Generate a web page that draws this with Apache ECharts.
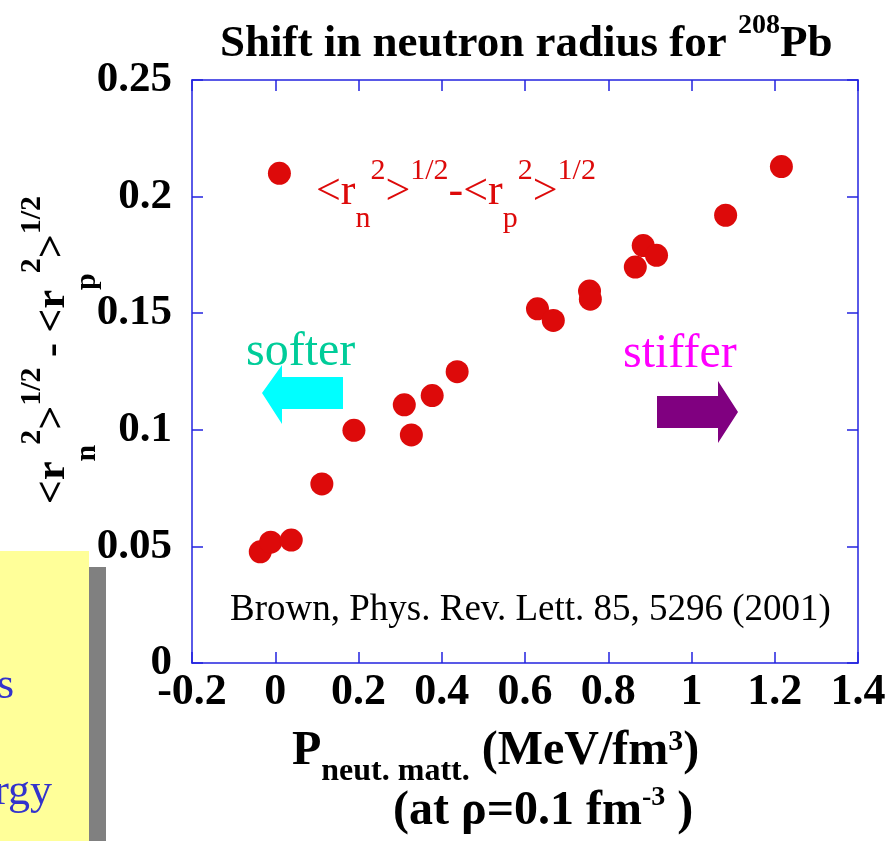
<!DOCTYPE html>
<html>
<head>
<meta charset="utf-8">
<script src="https://cdn.jsdelivr.net/npm/echarts@6/dist/echarts.min.js"></script>
<style>html,body{margin:0;padding:0;background:#fff}#c{width:891px;height:841px}</style>
</head>
<body>
<div id="c"></div>
<script>
// ---- data ----
const pressure = [0.01, -0.036, -0.011, 0.0385, 0.112, 0.189, 0.31, 0.327, 0.377, 0.437, 0.63, 0.668, 0.755, 0.757, 0.865, 0.884, 0.916, 1.082, 1.216];
const skin     = [0.210, 0.0477, 0.0518, 0.0527, 0.0768, 0.0998, 0.1107, 0.0978, 0.1147, 0.1249, 0.1519, 0.1469, 0.1595, 0.156, 0.1698, 0.179, 0.1748, 0.192, 0.2129];
const xTickLabels = ['-0.2', '0', '0.2', '0.4', '0.6', '0.8', '1', '1.2', '1.4'];
const yTickLabels = ['0', '0.05', '0.1', '0.15', '0.2', '0.25'];

const SERIF = "'Liberation Serif','Times New Roman',Times,serif";
const AXC = '#2323e0';
const RED = '#dd0a0a';

function tok(size, pad, weight, color) {
  return { fontSize: size, lineHeight: size, fontFamily: SERIF, fontWeight: weight || 'normal',
           fill: color, color: color, verticalAlign: 'top', padding: [pad, 0, 0, 0] };
}

const chart = echarts.init(document.getElementById('c'), null, { renderer: 'canvas' });

const axisCommon = {
  type: 'value',
  axisLine: { show: true, onZero: false, lineStyle: { color: AXC, width: 1.5 } },
  axisTick: { show: true, inside: true, length: 11, lineStyle: { color: AXC, width: 1.5 } },
  splitLine: { show: false }
};

chart.setOption({
  animation: false,
  backgroundColor: '#ffffff',
  grid: { left: 192, right: 33, top: 80, bottom: 178, show: false },
  xAxis: [
    Object.assign({}, axisCommon, {
      min: -0.2, max: 1.4, interval: 0.2, position: 'bottom',
      axisLabel: {
        show: true, margin: 8, fontSize: 44, fontWeight: 'bold', fontFamily: SERIF, color: '#000',
        formatter: v => xTickLabels[Math.round((v + 0.2) / 0.2)]
      }
    }),
    Object.assign({}, axisCommon, {
      min: -0.2, max: 1.4, interval: 0.2, position: 'top', axisLabel: { show: false }
    })
  ],
  yAxis: [
    Object.assign({}, axisCommon, {
      min: 0, max: 0.25, interval: 0.05, position: 'left',
      axisLabel: {
        show: true, margin: 20, fontSize: 43, fontWeight: 'bold', fontFamily: SERIF, color: '#000',
        padding: [0, 0, 12, 0],
        formatter: v => yTickLabels[Math.round(v / 0.05)]
      }
    }),
    Object.assign({}, axisCommon, {
      min: 0, max: 0.25, interval: 0.05, position: 'right', axisLabel: { show: false }
    })
  ],
  series: [{
    type: 'scatter',
    xAxisIndex: 0, yAxisIndex: 0,
    symbol: 'circle',
    symbolSize: 23,
    itemStyle: { color: RED, opacity: 1 },
    data: pressure.map((p, i) => [p, skin[i]])
  }],
  graphic: [
    // overlapping slide box (bottom-left)
    { type: 'rect', shape: { x: 89, y: 567, width: 17, height: 274 }, style: { fill: '#808080' }, z: 1 },
    { type: 'rect', shape: { x: 0, y: 551, width: 89, height: 290 }, style: { fill: '#ffff99' }, z: 1 },
    { type: 'text', x: 14, y: 708, z: 2, style: { text: 's', fontSize: 44, fontFamily: SERIF, fill: '#3333cc', align: 'right', textAlign: 'right', verticalAlign: 'bottom', textVerticalAlign: 'bottom' } },
    { type: 'text', x: 52, y: 814, z: 2, style: { text: 'rgy', fontSize: 44, fontFamily: SERIF, fill: '#3333cc', align: 'right', textAlign: 'right', verticalAlign: 'bottom', textVerticalAlign: 'bottom' } },
    // title
    { type: 'text', x: 220, y: 0, z: 5, style: {
        text: '{b|Shift in neutron radius for }{s|208}{b|Pb}', align: 'left', textAlign: 'left', verticalAlign: 'top', textVerticalAlign: 'top',
        rich: { b: tok(45, 22, 'bold', '#000'), s: tok(28, 12, 'bold', '#000') } } },
    // formula annotation
    { type: 'text', x: 316, y: 150, z: 5, style: {
        text: '{b|<r}{sub|n}{sup|2}{b|>}{sup|1/2}{b|-<r}{sub|p}{sup|2}{b|>}{sup|1/2}', align: 'left', textAlign: 'left', verticalAlign: 'top', textVerticalAlign: 'top',
        rich: { b: tok(44, 20, 'normal', RED), sub: tok(30, 54, 'normal', RED), sup: tok(30, 6, 'normal', RED) } } },
    // softer / stiffer
    { type: 'text', x: 246, y: 352, z: 5, style: { text: 'softer', fontSize: 48, fontFamily: SERIF, fill: '#00cc99', align: 'left', textAlign: 'left', verticalAlign: 'middle', textVerticalAlign: 'middle' } },
    { type: 'polygon', z: 5, shape: { points: [[262,393],[282,365],[282,377],[343,377],[343,409],[282,409],[282,424]] }, style: { fill: '#00ffff' } },
    { type: 'text', x: 623, y: 354, z: 5, style: { text: 'stiffer', fontSize: 48, fontFamily: SERIF, fill: '#ff00ff', align: 'left', textAlign: 'left', verticalAlign: 'middle', textVerticalAlign: 'middle' } },
    { type: 'polygon', z: 5, shape: { points: [[738,412],[718,381],[718,396],[657,396],[657,428],[718,428],[718,443]] }, style: { fill: '#800080' } },
    // citation
    { type: 'text', x: 230, y: 610, z: 5, style: { text: 'Brown, Phys. Rev. Lett. 85, 5296 (2001)', fontSize: 37, fontFamily: SERIF, fill: '#000', align: 'left', textAlign: 'left', verticalAlign: 'middle', textVerticalAlign: 'middle' } },
    // x axis title
    { type: 'text', x: 292, y: 720, z: 5, style: {
        text: '{b|P}{sub|neut. matt.}{b| (MeV/fm}{sup|3}{b|)}', align: 'left', textAlign: 'left', verticalAlign: 'top', textVerticalAlign: 'top',
        rich: { b: tok(48, 8, 'bold', '#000'), sub: tok(32, 36, 'bold', '#000'), sup: tok(30, 7, 'bold', '#000') } } },
    { type: 'text', x: 393, y: 780, z: 5, style: {
        text: '{b|(at ρ=0.1 fm}{sup|-3}{b| )}', align: 'left', textAlign: 'left', verticalAlign: 'top', textVerticalAlign: 'top',
        rich: { b: tok(48, 8, 'bold', '#000'), sup: tok(28, 4, 'bold', '#000') } } },
    // y axis title (rotated)
    { type: 'text', x: 12, y: 350, rotation: Math.PI / 2, z: 5, style: {
        text: '{b|<r}{sub|n}{sup|2}{b|>}{sup|1/2}{b| - <r}{sub|p}{sup|2}{b|>}{sup|1/2}', align: 'center', textAlign: 'center', verticalAlign: 'top', textVerticalAlign: 'top',
        rich: { b: tok(42, 20, 'bold', '#000'), sub: tok(30, 60, 'bold', '#000'), sup: tok(30, 5, 'bold', '#000') } } }
  ]
});
</script>
</body>
</html>
